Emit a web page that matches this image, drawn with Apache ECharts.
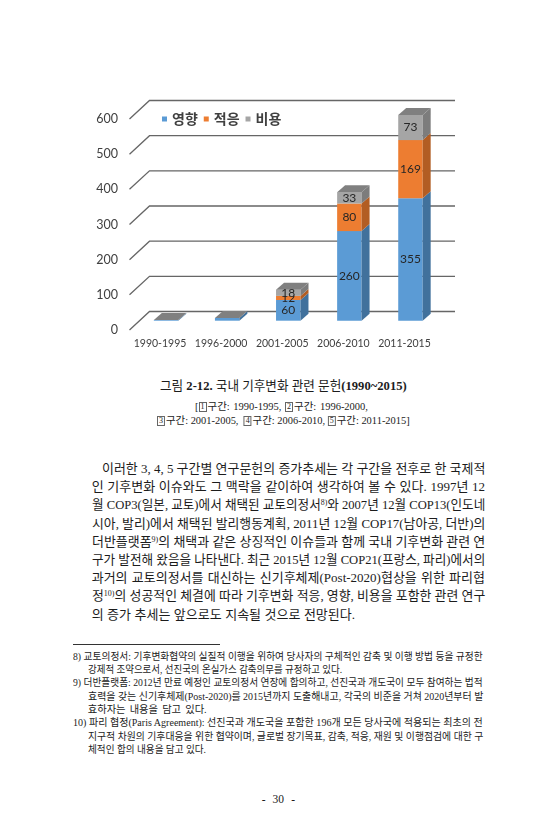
<!DOCTYPE html>
<html><head><meta charset="utf-8">
<script src="https://cdn.jsdelivr.net/npm/echarts@6/dist/echarts.min.js"></script>
<style>
html,body{margin:0;padding:0;background:#fff;width:557px;height:840px;overflow:hidden;position:relative;}
#chart{position:absolute;left:0;top:0;width:557px;height:360px;}
.ln{position:absolute;white-space:nowrap;color:#1c1c1c;font-family:"Liberation Serif","Noto Sans CJK KR",serif;}
.ln .in{display:inline-block;transform-origin:0 50%;white-space:nowrap;}
.ln sup{font-size:0.62em;vertical-align:0.45em;line-height:0;}
.bx{display:inline-block;border:1px solid #666;font-size:8px;line-height:8px;padding:0 1px;margin-right:1px;vertical-align:1px;font-family:"Liberation Serif",serif;}
.rule{position:absolute;left:73px;top:644px;width:147px;height:0;border-top:1px solid #333;}
</style></head>
<body>
<div id="chart"></div>

<div class="ln" data-x="160" data-y="385" data-w="246.7" data-fs="13">그림 <b>2-12.</b> 국내 기후변화 관련 문헌<b>(1990~2015)</b></div>
<div class="ln" data-x="195" data-y="407.3" data-w="173" data-fs="10.5">[<span class="bx">1</span>구간: 1990-1995, <span class="bx">2</span>구간: 1996-2000,</div>
<div class="ln" data-x="157.3" data-y="421" data-w="252.7" data-fs="10.5"><span class="bx">3</span>구간: 2001-2005, &nbsp;<span class="bx">4</span>구간: 2006-2010, <span class="bx">5</span>구간: 2011-2015]</div>

<div class="ln" data-x="101.7" data-y="468.3" data-w="383.3" data-fs="13">이러한 3, 4, 5 구간별 연구문헌의 증가추세는 각 구간을 전후로 한 국제적</div>
<div class="ln" data-x="91.7" data-y="486.6" data-w="393.3" data-fs="13">인 기후변화 이슈와도 그 맥락을 같이하여 생각하여 볼 수 있다. 1997년 12</div>
<div class="ln" data-x="91.7" data-y="504.8" data-w="393.3" data-fs="13">월 COP3(일본, 교토)에서 채택된 교토의정서<sup>8)</sup>와 2007년 12월 COP13(인도네</div>
<div class="ln" data-x="91.7" data-y="523" data-w="393.3" data-fs="13">시아, 발리)에서 채택된 발리행동계획, 2011년 12월 COP17(남아공, 더반)의</div>
<div class="ln" data-x="91.7" data-y="541.2" data-w="393.3" data-fs="13">더반플랫폼<sup>9)</sup>의 채택과 같은 상징적인 이슈들과 함께 국내 기후변화 관련 연</div>
<div class="ln" data-x="91.7" data-y="559.4" data-w="393.3" data-fs="13">구가 발전해 왔음을 나타낸다. 최근 2015년 12월 COP21(프랑스, 파리)에서의</div>
<div class="ln" data-x="91.7" data-y="577.6" data-w="393.3" data-fs="13">과거의 교토의정서를 대신하는 신기후체제(Post-2020)협상을 위한 파리협</div>
<div class="ln" data-x="91.7" data-y="595.8" data-w="393.3" data-fs="13">정<sup>10)</sup>의 성공적인 체결에 따라 기후변화 적응, 영향, 비용을 포함한 관련 연구</div>
<div class="ln" data-x="91.7" data-y="614" data-w="263.3" data-fs="13">의 증가 추세는 앞으로도 지속될 것으로 전망된다.</div>

<div class="rule"></div>

<div class="ln" data-x="73.3" data-y="656.7" data-w="409.7" data-fs="10.3">8) 교토의정서: 기후변화협약의 실질적 이행을 위하여 당사자의 구체적인 감축 및 이행 방법 등을 규정한</div>
<div class="ln" data-x="87.7" data-y="670" data-w="254" data-fs="10.3">강제적 조약으로서, 선진국의 온실가스 감축의무를 규정하고 있다.</div>
<div class="ln" data-x="73.3" data-y="683.4" data-w="409.7" data-fs="10.3">9) 더반플랫폼: 2012년 만료 예정인 교토의정서 연장에 합의하고, 선진국과 개도국이 모두 참여하는 법적</div>
<div class="ln" data-x="87.7" data-y="696.8" data-w="395.3" data-fs="10.3">효력을 갖는 신기후체제(Post-2020)를 2015년까지 도출해내고, 각국의 비준을 거쳐 2020년부터 발</div>
<div class="ln" data-x="87.7" data-y="710.2" data-w="119" data-fs="10.3">효하자는 내용을 담고 있다.</div>
<div class="ln" data-x="73.3" data-y="723.5" data-w="409.7" data-fs="10.3">10) 파리 협정(Paris Agreement): 선진국과 개도국을 포함한 196개 모든 당사국에 적용되는 최초의 전</div>
<div class="ln" data-x="87.7" data-y="736.8" data-w="395.3" data-fs="10.3">지구적 차원의 기후대응을 위한 협약이며, 글로벌 장기목표, 감축, 적응, 재원 및 이행점검에 대한 구</div>
<div class="ln" data-x="87.7" data-y="750.2" data-w="118" data-fs="10.3">체적인 합의 내용을 담고 있다.</div>

<div class="ln" data-x="261.7" data-y="800" data-w="33.3" data-fs="11.5">- 30 -</div>

<script>
// ---- chart data ----
const categories = ['1990-1995', '1996-2000', '2001-2005', '2006-2010', '2011-2015'];
const seriesNames = ['영향', '적응', '비용'];
const impact = [2, 8, 60, 260, 355];
const adapt = [0, 0, 12, 80, 169];
const cost = [0, 0, 18, 33, 73];
const yTicks = [0, 100, 200, 300, 400, 500, 600];

const stacks = [impact, adapt, cost];
const frontColors = ['#5B9BD5', '#ED7D31', '#A5A5A5'];
const sideColors = ['#41719C', '#B25D23', '#7C7C7C'];
const topColor = '#808080';

const DX = 8, DY = 7, OFFX = 6, OFFY = -9.3, K = 0.98, BW = 0.4;
const GDX = 20, GDY = 18.5;

function barSeries(s) {
  return {
    type: 'custom',
    name: seriesNames[s],
    coordinateSystem: 'cartesian2d',
    itemStyle: { color: frontColors[s] },
    data: stacks[s].map((v, i) => [i, v]),
    z: 3,
    renderItem: function (params, api) {
      const i = api.value(0);
      const v = api.value(1);
      let base = 0;
      for (let k = 0; k < s; k++) base += stacks[k][i];
      const p0 = api.coord([i, 0]);
      const p100 = api.coord([i, 100]);
      const ppu = (p0[1] - p100[1]) / 100 * K;
      const bandW = api.size([1, 0])[0];
      const w = bandW * BW;
      const cx = p0[0] + OFFX;
      const yb = p0[1] + OFFY;
      const y1 = yb - base * ppu;
      const y2 = yb - (base + v) * ppu;
      const xl = cx - w / 2, xr = cx + w / 2;
      const children = [];
      if (v > 0) {
        children.push({ type: 'rect', shape: { x: xl, y: y2, width: w, height: y1 - y2 },
          style: { fill: frontColors[s] } });
        children.push({ type: 'polygon', shape: { points: [[xr, y1], [xr, y2], [xr + DX, y2 - DY], [xr + DX, y1 - DY]] },
          style: { fill: sideColors[s] } });
      }
      if (s === stacks.length - 1) {
        children.push({ type: 'polygon', shape: { points: [[xl, y2], [xr, y2], [xr + DX, y2 - DY], [xl + DX, y2 - DY]] },
          style: { fill: topColor } });
      }
      if (v >= 10) {
        children.push({ type: 'text', style: { text: String(v), x: cx, y: (y1 + y2) / 2,
          align: 'center', verticalAlign: 'middle', fill: '#262626',
          font: '12px Lato, sans-serif' } });
      }
      return { type: 'group', children: children };
    }
  };
}

const chart = echarts.init(document.getElementById('chart'), null, { renderer: 'canvas' });
chart.setOption({
  animation: false,
  backgroundColor: '#fff',
  grid: { left: 129.5, top: 119, width: 305.5, height: 211, containLabel: false, outerBoundsMode: 'none' },
  legend: {
    data: seriesNames, left: 157, top: 107, icon: 'rect', itemWidth: 5, itemHeight: 5, itemGap: 6,
    textStyle: { fontFamily: 'Noto Sans CJK KR', fontSize: 14, fontWeight: 'bold', color: '#404040' }
  },
  xAxis: {
    type: 'category', data: categories, boundaryGap: true,
    axisLine: { show: false }, axisTick: { show: false }, splitLine: { show: false },
    axisLabel: { interval: 0, margin: 8, color: '#404040', fontSize: 10.5, fontFamily: 'Lato, sans-serif' }
  },
  yAxis: {
    type: 'value', min: 0, max: 600, interval: 100,
    axisLine: { show: false }, axisTick: { show: false }, splitLine: { show: false },
    axisLabel: { margin: 11.5, color: '#404040', fontSize: 12.5, fontFamily: 'Lato, sans-serif' }
  },
  series: [
    {
      type: 'custom', name: 'grid3d', silent: true, z: 1,
      data: yTicks.map(v => [0, v]),
      renderItem: function (params, api) {
        const cs = params.coordSys;
        const y = api.coord([0, api.value(1)])[1];
        return { type: 'polyline', shape: { points: [[cs.x, y], [cs.x + GDX, y - GDY], [cs.x + cs.width + GDX, y - GDY]] },
          style: { stroke: '#666', lineWidth: 1.3, fill: null } };
      }
    },
    barSeries(0), barSeries(1), barSeries(2)
  ]
});

// ---- text line layout ----
document.querySelectorAll('.ln').forEach(function (el) {
  const x = parseFloat(el.dataset.x), y = parseFloat(el.dataset.y);
  const w = parseFloat(el.dataset.w), fs = parseFloat(el.dataset.fs);
  el.style.fontSize = fs + 'px';
  el.style.lineHeight = fs + 'px';
  el.style.left = x + 'px';
  el.style.top = (y - fs / 2) + 'px';
  const inner = document.createElement('span');
  inner.className = 'in';
  inner.innerHTML = el.innerHTML;
  el.innerHTML = '';
  el.appendChild(inner);
  const nat = inner.getBoundingClientRect().width;
  const n = (inner.textContent.match(/[ \u00a0]/g) || []).length;
  if (nat > w || n === 0) {
    inner.style.transform = 'scaleX(' + (w / nat) + ')';
  } else {
    inner.style.wordSpacing = ((w - nat) / n) + 'px';
  }
});
</script>
</body></html>
